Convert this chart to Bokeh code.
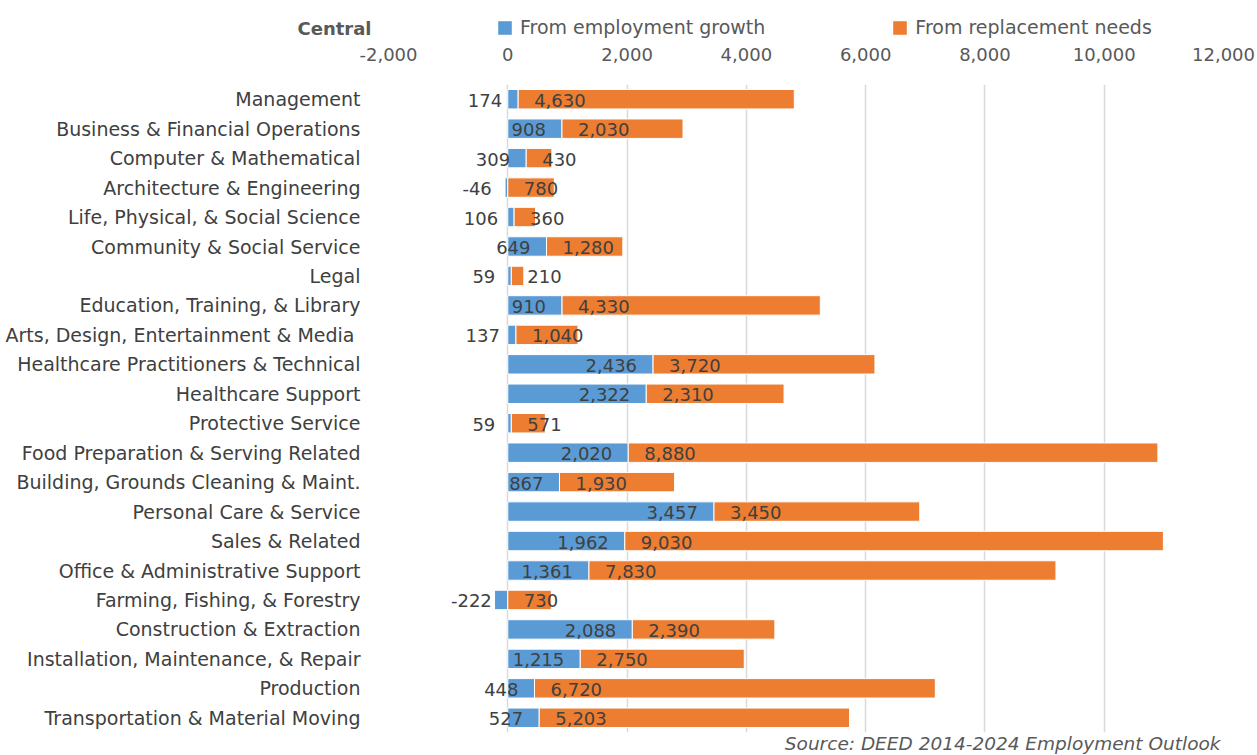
from bokeh.plotting import figure
from bokeh.layouts import column
from bokeh.models import (ColumnDataSource, FactorRange, Range1d, FixedTicker,
                          NumeralTickFormatter, Legend, LegendItem, Title, Label)
from bokeh.core.properties import value
from bokeh.embed import file_html
from bokeh.resources import INLINE

categories = ["Management", "Business & Financial Operations", "Computer & Mathematical",
              "Architecture & Engineering", "Life, Physical, & Social Science",
              "Community & Social Service", "Legal", "Education, Training, & Library",
              "Arts, Design, Entertainment & Media ", "Healthcare Practitioners & Technical",
              "Healthcare Support", "Protective Service", "Food Preparation & Serving Related",
              "Building, Grounds Cleaning & Maint.", "Personal Care & Service", "Sales & Related",
              "Office & Administrative Support", "Farming, Fishing, & Forestry",
              "Construction & Extraction", "Installation, Maintenance, & Repair", "Production",
              "Transportation & Material Moving"]
growth = [174, 908, 309, -46, 106, 649, 59, 910, 137, 2436, 2322, 59, 2020, 867, 3457,
          1962, 1361, -222, 2088, 1215, 448, 527]
replacement = [4630, 2030, 430, 780, 360, 1280, 210, 4330, 1040, 3720, 2310, 571, 8880,
               1930, 3450, 9030, 7830, 730, 2390, 2750, 6720, 5203]
x_ticks = [-2000, 0, 2000, 4000, 6000, 8000, 10000, 12000]

series_names = ["From employment growth", "From replacement needs"]
title_text = "Central"
source_text = "Source: DEED 2014-2024 Employment Outlook"

BLUE = "#5B9BD5"
ORANGE = "#ED7D31"
FONT = "DejaVu Sans"
W = 1257
TOP_H = 40
MAIN_H = 755 - TOP_H

src = ColumnDataSource(dict(
    cat=categories,
    g_left=[min(g, 0) for g in growth],
    g_right=[max(g, 0) for g in growth],
    r_left=[max(g, 0) for g in growth],
    r_right=[max(g, 0) + r for g, r in zip(growth, replacement)],
    g_lab=["{:,}".format(g) for g in growth],
    r_lab=["{:,}".format(r) for r in replacement],
))

# ---------- header strip: title + legend ----------
top = figure(width=W, height=TOP_H, output_backend="svg", toolbar_location=None,
             x_axis_type=None, y_axis_type=None, title_location=None,
             x_range=Range1d(-2000, 12000), y_range=FactorRange(*reversed(categories)),
             min_border_left=0, min_border_right=0, min_border_top=0, min_border_bottom=0)
top.frame_align = False
top.outline_line_color = None
top.grid.visible = False
kb = top.hbar(y="cat", left="g_left", right="g_right", height=0.66, source=src,
              fill_color=BLUE, line_color=None, visible=False)
ko = top.hbar(y="cat", left="r_left", right="r_right", height=0.66, source=src,
              fill_color=ORANGE, line_color=None, visible=False)
lg = Legend(items=[LegendItem(label=series_names[0], renderers=[kb]),
                   LegendItem(label=series_names[1], renderers=[ko])],
            location=(496, 2), orientation="horizontal",
            glyph_width=17, glyph_height=17, label_standoff=7,
            padding=0, margin=0, spacing=126, border_line_color=None,
            background_fill_alpha=0, inactive_fill_alpha=0, label_height=20,
            label_text_font=FONT, label_text_font_size="19px",
            label_text_color="#595959")
top.add_layout(lg)
top.add_layout(Label(x=371, y=12, x_units="screen", y_units="screen", text=title_text,
                     text_align="right", text_baseline="middle", text_font=FONT,
                     text_font_style="bold", text_font_size="18px", text_color="#595959"))

# ---------- main chart ----------
p = figure(width=W, height=MAIN_H, output_backend="svg", toolbar_location=None,
           y_range=FactorRange(*reversed(categories)), x_range=Range1d(-2000, 12000),
           x_axis_location="above", title_location=None,
           min_border_left=388, min_border_right=34, min_border_top=84 - TOP_H,
           min_border_bottom=20)
p.frame_align = False
p.outline_line_color = None

rb = p.hbar(y="cat", left="g_left", right="g_right", height=0.66, source=src,
            fill_color=BLUE, line_color="white", line_width=1)
ro = p.hbar(y="cat", left="r_left", right="r_right", height=0.66, source=src,
            fill_color=ORANGE, line_color="white", line_width=1)

p.text(x="g_right", y="cat", text="g_lab", source=src, x_offset=-16, y_offset=1,
       text_align="right", text_baseline="middle", text_font=value(FONT),
       text_font_size="18px", text_color="#404040")
p.text(x="r_left", y="cat", text="r_lab", source=src, x_offset=16, y_offset=1,
       text_align="left", text_baseline="middle", text_font=value(FONT),
       text_font_size="18px", text_color="#404040")

xa = p.xaxis[0]
xa.ticker = FixedTicker(ticks=x_ticks)
xa.formatter = NumeralTickFormatter(format="0,0")
xa.major_label_text_font = FONT
xa.major_label_text_font_size = "18px"
xa.major_label_text_color = "#595959"
xa.major_tick_out = 0
xa.major_tick_in = 0
xa.minor_tick_out = 0
xa.minor_tick_in = 0
xa.axis_line_color = None
xa.major_label_standoff = 24

ya = p.yaxis[0]
ya.major_label_text_font = FONT
ya.major_label_text_font_size = "19px"
ya.major_label_text_color = "#404040"
ya.major_tick_out = 0
ya.major_tick_in = 0
ya.axis_line_color = None
ya.major_label_standoff = 28

p.xgrid.grid_line_color = "#D9D9D9"
p.xgrid.grid_line_width = 1.5
p.ygrid.grid_line_color = None

p.add_layout(Title(text=source_text, align="right", offset=3, standoff=0,
                   vertical_align="top", text_font=FONT, text_font_style="italic",
                   text_font_size="18.5px", text_color="#595959"), "below")

open("out.html", "w").write(file_html(column(top, p, spacing=0), INLINE))
